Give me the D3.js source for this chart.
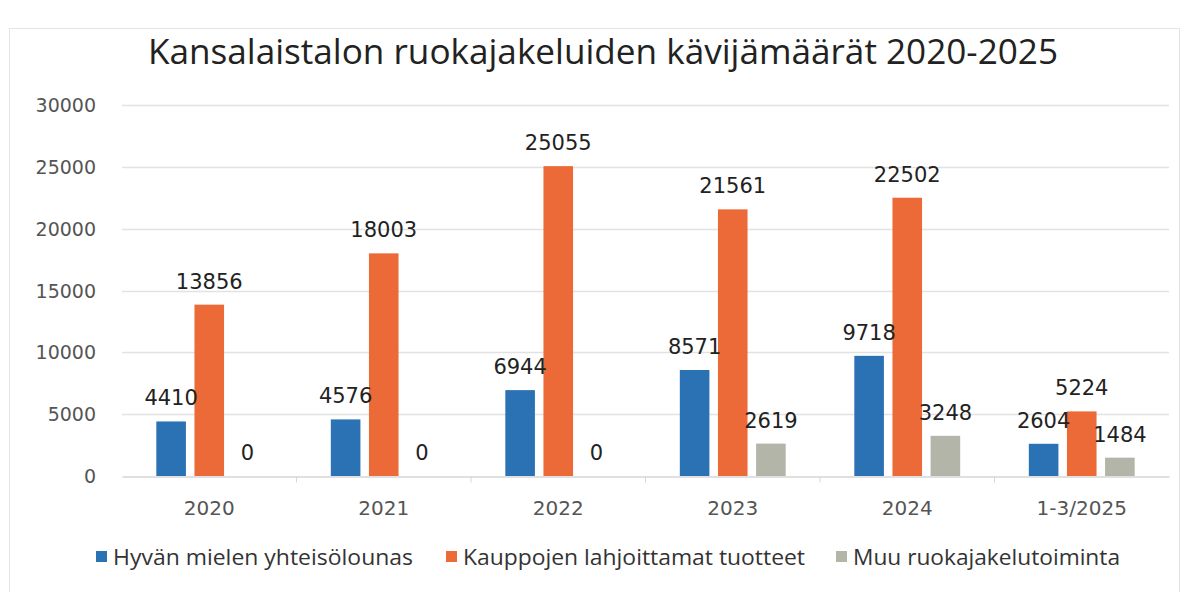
<!DOCTYPE html>
<html>
<head>
<meta charset="utf-8">
<script src="https://cdn.jsdelivr.net/npm/d3@7"></script>
<style>
  body { margin: 0; background: #fff; }
  .narrow { font-family: "Open Sans", sans-serif; }
</style>
</head>
<body>
<div class="canvas"></div>
<script>
const categories = ['2020', '2021', '2022', '2023', '2024', '1-3/2025'];
const seriesNames = ['Hyvän mielen yhteisölounas', 'Kauppojen lahjoittamat tuotteet', 'Muu ruokajakelutoiminta'];
const hyvanMielen = [4410, 4576, 6944, 8571, 9718, 2604];
const kauppojen = [13856, 18003, 25055, 21561, 22502, 5224];
const muu = [0, 0, 0, 2619, 3248, 1484];
const yTicks = [0, 5000, 10000, 15000, 20000, 25000, 30000];
const colours = ['#2a72b4', '#ec6a37', '#b3b5a8'];

const width = 1189, height = 592;
const svg = d3.select('.canvas')
    .append('svg')
    .attr('width', width)
    .attr('height', height);

// chart frame (faint)
svg.append('rect')
    .attr('x', 9.5).attr('y', 28.5)
    .attr('width', 1170).attr('height', 570)
    .attr('fill', 'none')
    .attr('stroke', '#e4e4e4');

svg.append('text')
    .attr('class', 'narrow')
    .attr('x', 148)
    .attr('y', 64)
    .attr('textLength', 910)
    .attr('lengthAdjust', 'spacingAndGlyphs')
    .attr('font-size', 35)
    .attr('fill', '#222')
    .text('Kansalaistalon ruokajakeluiden kävijämäärät 2020-2025');

const x = d3.scaleBand()
    .domain(categories)
    .range([122, 1169]);

const x1 = d3.scaleBand()
    .domain(d3.range(3))
    .range([0, x.bandwidth()])
    .paddingInner(0.224)
    .paddingOuter(0.9);

const y = d3.scaleLinear()
    .domain([0, 30000])
    .range([476, 105]);

// gridlines
svg.append('g')
    .selectAll('line')
    .data(yTicks.slice(1))
    .enter()
    .append('line')
    .attr('x1', 122).attr('x2', 1169)
    .attr('y1', d => Math.round(y(d)) + 0.5)
    .attr('y2', d => Math.round(y(d)) + 0.5)
    .attr('stroke', '#e2e2e2')
    .attr('stroke-width', 1.5);

// y tick labels
svg.append('g')
    .selectAll('text')
    .data(yTicks)
    .enter()
    .append('text')
    .attr('x', 96)
    .attr('y', d => y(d) + 7)
    .attr('text-anchor', 'end')
    .attr('font-family', 'DejaVu Sans')
    .attr('font-size', 19)
    .attr('fill', '#555')
    .text(d => d);

// x axis
const xAxis = svg.append('g')
    .attr('transform', `translate(0, ${Math.round(y(0)) + 0.5})`)
    .call(d3.axisBottom(x).tickSize(0).tickPadding(24));
xAxis.select('.domain').attr('stroke', '#d6d6d6').attr('stroke-width', 1.5);
xAxis.selectAll('text')
    .attr('font-family', 'DejaVu Sans')
    .attr('font-size', 20)
    .attr('fill', '#555');
xAxis.selectAll('.sep')
    .data(categories.slice(1))
    .enter()
    .append('line')
    .attr('x1', d => x(d)).attr('x2', d => x(d))
    .attr('y1', 0).attr('y2', 6)
    .attr('stroke', '#d6d6d6');

const series = [hyvanMielen, kauppojen, muu];
const rows = [];
series.forEach((vals, s) => vals.forEach((v, i) => rows.push({ s, cat: categories[i], v })));

const bars = svg.append('g');
bars.selectAll('rect')
    .data(rows)
    .enter()
    .append('rect')
    .attr('x', d => x(d.cat) + x1(d.s))
    .attr('width', x1.bandwidth())
    .attr('y', d => y(d.v))
    .attr('height', d => y(0) - y(d.v))
    .attr('fill', d => colours[d.s]);

svg.append('g')
    .selectAll('text')
    .data(rows)
    .enter()
    .append('text')
    .attr('x', d => x(d.cat) + x1(d.s) + x1.bandwidth() / 2)
    .attr('y', d => y(d.v) - 16)
    .attr('text-anchor', 'middle')
    .attr('font-family', 'DejaVu Sans')
    .attr('font-size', 21)
    .attr('fill', '#222')
    .text(d => d.v);

// legend
const legendX = [96, 446, 836];
const legendW = [300, 342, 267];
const legend = svg.append('g')
    .selectAll('g')
    .data(seriesNames)
    .enter()
    .append('g')
    .attr('transform', (d, i) => `translate(${legendX[i]}, 551)`);
legend.append('rect')
    .attr('width', 11).attr('height', 11)
    .attr('fill', (d, i) => colours[i]);
legend.append('text')
    .attr('class', 'narrow')
    .attr('x', 17)
    .attr('y', 14)
    .attr('font-size', 22)
    .attr('textLength', (d, i) => legendW[i])
    .attr('lengthAdjust', 'spacingAndGlyphs')
    .attr('fill', '#333')
    .text(d => d);
</script>
</body>
</html>
